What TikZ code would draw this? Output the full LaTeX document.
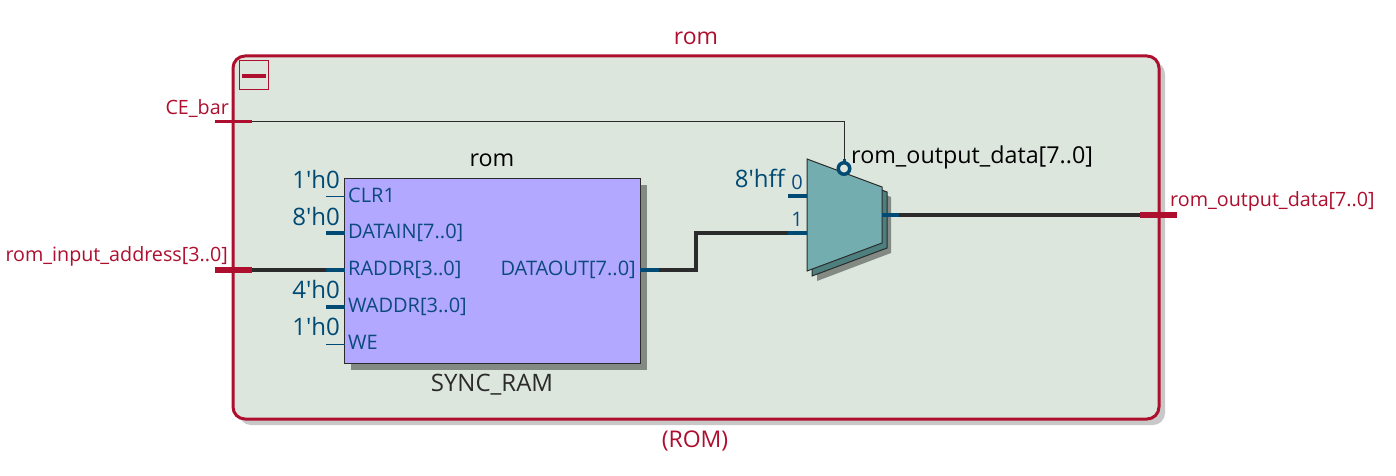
\documentclass[tikz,border=0pt]{standalone}
\usepackage{fontspec}
\setmainfont{Open Sans}
\definecolor{romred}{HTML}{AE0F2E}
\definecolor{pinblue}{HTML}{004A73}
\definecolor{labelblue}{HTML}{0B4A7D}
\definecolor{wiredark}{HTML}{2B2B2B}
\definecolor{boxgreen}{HTML}{DDE6DD}
\definecolor{ramfill}{HTML}{B3A8FF}
\definecolor{muxfill}{HTML}{74ADAF}
\definecolor{muxdark}{HTML}{4D7F7F}
\definecolor{shadowgrey}{HTML}{838A83}
\definecolor{boxshadow}{HTML}{C8C8C8}
\tikzset{
	pinlabel/.style={font=\fontsize{20}{20}\selectfont, text=labelblue, inner sep=0pt},
	constlabel/.style={font=\fontsize{24}{24}\selectfont, text=pinblue, inner sep=0pt},
	portlabel/.style={font=\fontsize{19.7}{19.7}\selectfont, text=romred, inner sep=0pt},
	instlabel/.style={font=\fontsize{23.3}{23.3}\selectfont, text=black, inner sep=0pt},
	titlelabel/.style={font=\fontsize{23}{23}\selectfont, text=romred, inner sep=0pt},
	thinpin/.style={draw=pinblue, line width=1pt},
	buspin/.style={draw=pinblue, line width=4pt},
	buswire/.style={draw=wiredark, line width=4pt, line join=miter},
	thinwire/.style={draw=wiredark, line width=1pt},
	portbus/.style={draw=romred, line width=6pt},
	portbit/.style={draw=romred, line width=3pt}
}
\begin{document}
\begin{tikzpicture}[x=1pt,y=-1pt]
	\useasboundingbox ( 0, 0 ) rectangle ( 1396, 476 );
	\fill [white] ( 0, 0 ) rectangle ( 1396, 476 );
	% hierarchy box
	\fill [boxshadow, rounded corners=12pt] ( 239, 62 ) rectangle ( 1165, 425 );
	\node [draw=romred, fill=boxgreen, line width=3pt, rounded corners=12pt, minimum width=926pt, minimum height=363pt, inner sep=0pt, outer sep=0pt] (rombox) at ( 696, 237.5 ) {};
	\node [draw=romred, fill=boxgreen, line width=1pt, minimum size=29pt, inner sep=0pt] (collapsebtn) at ( 253.5, 75.5 ) {};
	\draw [romred, line width=4pt] ( 242, 76 ) -- ( 266, 76 );
	\node [titlelabel, anchor=base] (romtitle) at ( 696, 45 ) {rom};
	\node [titlelabel, anchor=base] (romtype) at ( 695, 447 ) {(ROM)};
	% ram block
	\fill [shadowgrey] ( 351, 185 ) rectangle ( 647, 370 );
	\node [draw=wiredark, fill=ramfill, line width=1pt, minimum width=296pt, minimum height=185pt, inner sep=0pt, outer sep=0pt] (ram) at ( 492.5, 271 ) {};
	\node [instlabel, anchor=base] (raminst) at ( 492, 166 ) {rom};
	\node [instlabel, anchor=base, text=wiredark, font=\fontsize{24}{24}\selectfont] (ramtype) at ( 492, 391 ) {SYNC\_RAM};
	\node [pinlabel, anchor=base west] (clrlabel) at ( 348, 202 ) {CLR1};
	\node [pinlabel, anchor=base west] (datainlabel) at ( 348, 238 ) {DATAIN[7..0]};
	\node [pinlabel, anchor=base west] (raddrlabel) at ( 348, 275 ) {RADDR[3..0]};
	\node [pinlabel, anchor=base west] (waddrlabel) at ( 348, 312 ) {WADDR[3..0]};
	\node [pinlabel, anchor=base west] (welabel) at ( 348, 349 ) {WE};
	\node [pinlabel, anchor=base east] (dataoutlabel) at ( 636, 275 ) {DATAOUT[7..0]};
	\node [constlabel, anchor=base east] (clrconst) at ( 340, 188 ) {1\textquotesingle h0};
	\node [constlabel, anchor=base east] (datainconst) at ( 340, 225 ) {8\textquotesingle h0};
	\node [constlabel, anchor=base east] (waddrconst) at ( 340, 298 ) {4\textquotesingle h0};
	\node [constlabel, anchor=base east] (weconst) at ( 340, 335 ) {1\textquotesingle h0};
	% mux
	\fill [shadowgrey] ( 817, 169 ) -- ( 891, 197 ) -- ( 891, 253 ) -- ( 817, 281 ) -- cycle;
	\filldraw [draw=wiredark, fill=muxdark, line width=1pt] ( 812, 164 ) -- ( 887, 192 ) -- ( 887, 248 ) -- ( 812, 276 ) -- cycle;
	\filldraw [draw=wiredark, fill=muxfill, line width=1pt] ( 807, 159 ) -- ( 882, 187 ) -- ( 882, 243 ) -- ( 807, 271 ) -- cycle;
	\node [pinlabel, anchor=base] (muxzero) at ( 797, 189 ) {0};
	\node [pinlabel, anchor=base] (muxone) at ( 797, 226 ) {1};
	\node [constlabel, anchor=base east] (muxconst) at ( 785, 187 ) {8\textquotesingle hff};
	\node [instlabel, anchor=base west] (muxinst) at ( 851, 163 ) {rom\_output\_data[7..0]};
	% ports
	\node [portlabel, anchor=base east] (celabel) at ( 229, 114 ) {CE\_bar};
	\node [portlabel, anchor=base east] (addrlabel) at ( 228, 261 ) {rom\_input\_address[3..0]};
	\node [portlabel, anchor=base west] (outlabel) at ( 1170, 206 ) {rom\_output\_data[7..0]};
	\coordinate (cestart) at ( 215, 122 );
	\coordinate (ceend) at ( 252, 122 );
	\coordinate (cecorner) at ( 844, 122 );
	\coordinate (bubbletop) at ( 844, 159 );
	\coordinate (bubblepin) at ( 844, 164 );
	\coordinate (addrstart) at ( 215, 270 );
	\coordinate (addrend) at ( 252, 270 );
	\coordinate (raddrpin) at ( 326, 270 );
	\coordinate (raddrin) at ( 345, 270 );
	\coordinate (clrpin) at ( 326, 196 );
	\coordinate (clrin) at ( 345, 196 );
	\coordinate (datainpin) at ( 326, 233 );
	\coordinate (datainin) at ( 345, 233 );
	\coordinate (waddrpin) at ( 326, 307 );
	\coordinate (waddrin) at ( 345, 307 );
	\coordinate (wepin) at ( 326, 344 );
	\coordinate (wein) at ( 345, 344 );
	\coordinate (dataoutin) at ( 640, 270 );
	\coordinate (dataoutpin) at ( 659, 270 );
	\coordinate (muxbend) at ( 696, 270 );
	\coordinate (muxbendtop) at ( 696, 233 );
	\coordinate (muxonepin) at ( 788, 233 );
	\coordinate (muxonein) at ( 807, 233 );
	\coordinate (muxzeropin) at ( 788, 196 );
	\coordinate (muxzeroin) at ( 807, 196 );
	\coordinate (muxout) at ( 882, 215 );
	\coordinate (muxoutpin) at ( 899, 215 );
	\coordinate (outstart) at ( 1140, 215 );
	\coordinate (outend) at ( 1177, 215 );
	% wires
	\draw [thinwire] (ceend) -- (cecorner) -- (bubbletop);
	\draw [draw=pinblue, line width=3pt] (bubbletop) -- (bubblepin);
	\draw [portbit] (cestart) -- (ceend);
	\draw [buswire] (addrend) -- (raddrpin);
	\draw [portbus] (addrstart) -- (addrend);
	\draw [buspin] (raddrpin) -- (raddrin);
	\draw [thinpin] (clrpin) -- (clrin);
	\draw [buspin] (datainpin) -- (datainin);
	\draw [buspin] (waddrpin) -- (waddrin);
	\draw [thinpin] (wepin) -- (wein);
	\draw [buspin] (dataoutin) -- (dataoutpin);
	\draw [buswire] (dataoutpin) -- (muxbend) -- (muxbendtop) -- (muxonepin);
	\draw [buspin] (muxonepin) -- (muxonein);
	\draw [buspin] (muxzeropin) -- (muxzeroin);
	\draw [buspin] (muxout) -- (muxoutpin);
	\draw [buswire] (muxoutpin) -- (outstart);
	\draw [portbus] (outstart) -- (outend);
	\node [circle, draw=pinblue, fill=boxgreen, line width=3.5pt, minimum size=11.5pt, inner sep=0pt] (bubble) at ( 844, 168.5 ) {};
\end{tikzpicture}
\end{document}
